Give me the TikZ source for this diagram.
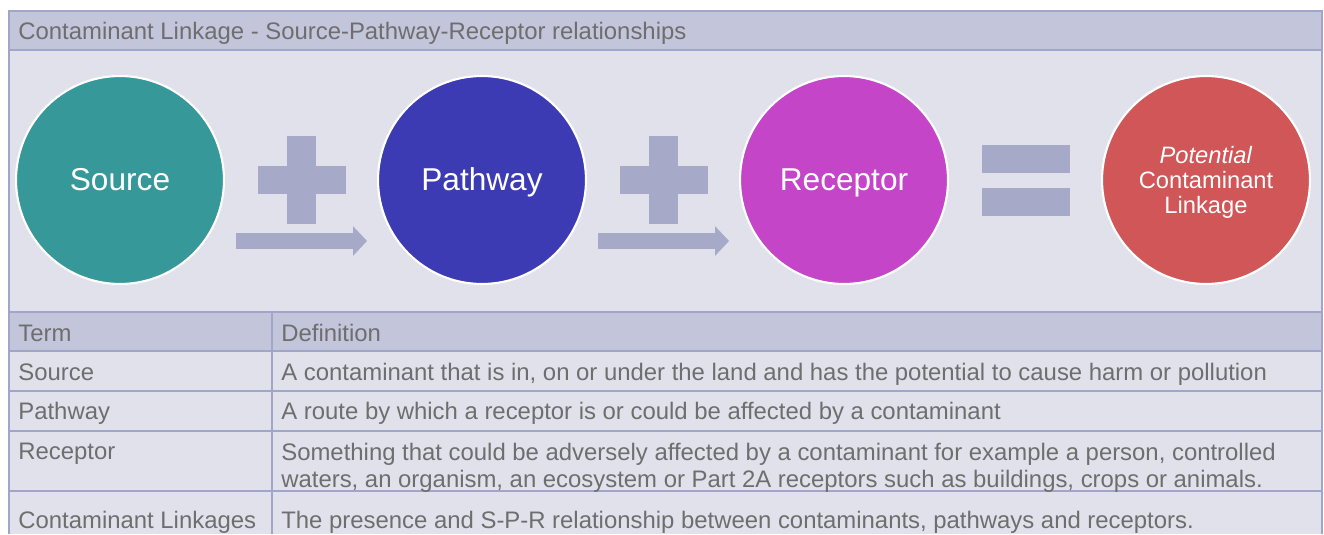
\documentclass[tikz,border=0pt]{standalone}
\usepackage{fontspec}
\setmainfont{Liberation Sans}
\usetikzlibrary{arrows.meta, positioning}
\definecolor{headfill}{HTML}{C3C5DB}
\definecolor{bodyfill}{HTML}{E1E1EC}
\definecolor{gridline}{HTML}{A2A5CA}
\definecolor{labelgrey}{HTML}{6E6E6E}
\definecolor{signfill}{HTML}{A6A9C7}
\definecolor{sourceteal}{HTML}{379899}
\definecolor{pathwayblue}{HTML}{3C3BB3}
\definecolor{receptorpink}{HTML}{C445C8}
\definecolor{linkagered}{HTML}{D05658}

\begin{document}
\begin{tikzpicture}[x=0.02cm, y=-0.02cm,
      stage/.style={circle, draw=white, line width=1.2pt, minimum size=4.16cm,
        inner sep=0pt, text=white, align=center, text height=15pt,
        text depth=3.4pt, font=\fontsize{18}{22}\selectfont},
      cell/.style={anchor=west, text=labelgrey, inner sep=0pt, align=left,
        text height=9.7pt, text depth=0pt,
        font=\fontsize{13.6}{15.3}\selectfont},
      sign/.style={fill=signfill},
      flow/.style={draw=signfill, line width=0.32cm,
        -{Triangle[length=0.28cm, width=0.58cm]}},
      grid line/.style={draw=gridline, line width=1.1pt}
    ]
      \useasboundingbox (0,0) rectangle (1324,534);
      \fill[headfill] (9,11) rectangle (1322,50);
      \fill[bodyfill] (9,50) rectangle (1322,312);
      \fill[headfill] (9,312) rectangle (1322,351);
      \fill[bodyfill] (9,351) rectangle (1322,534);
      \draw[grid line] (9,534) -- (9,11) -- (1322,11) -- (1322,534);
      \foreach \y in {50,312,351,391,431,491}
        \draw[grid line] (9,\y) -- (1322,\y);
      \draw[grid line] (272,312) -- (272,534);

      \node[cell] (title) at (18,31)
        {Contaminant Linkage - Source-Pathway-Receptor relationships};

      \node[stage, fill=sourceteal] (source) at (120,180) {Source};
      \node[stage, fill=pathwayblue] (pathway) at (482,180) {Pathway};
      \node[stage, fill=receptorpink] (receptor) at (844,180) {Receptor};
      \node[stage, fill=linkagered, text height=, text depth=0pt,
        font=\fontsize{13.5}{14.2}\selectfont]
        (linkage) at (1206,180)
        {\textit{Potential}\\Contaminant\\Linkage};

      \foreach \x in {301.5,663.5} {
        \fill[sign] (\x-14.5,136) rectangle (\x+14.5,224);
        \fill[sign] (\x-44,166) rectangle (\x+44,194);
      }
      \coordinate (flowAstart) at (236,241);
      \coordinate (flowAend) at (367,241);
      \coordinate (flowBstart) at (598,241);
      \coordinate (flowBend) at (729,241);
      \draw[flow] (flowAstart) -- (flowAend);
      \draw[flow] (flowBstart) -- (flowBend);
      \fill[sign] (982,145) rectangle (1070,173);
      \fill[sign] (982,188) rectangle (1070,216);

      \node[cell] (termhead) at (18,333) {Term};
      \node[cell] (defhead) at (281,333) {Definition};
      \node[cell] (termsource) at (18,372) {Source};
      \node[cell] (defsource) at (281,372)
        {A contaminant that is in, on or under the land and has the potential to cause harm or pollution};
      \node[cell] (termpathway) at (18,411) {Pathway};
      \node[cell] (defpathway) at (281,411)
        {A route by which a receptor is or could be affected by a contaminant};
      \node[cell] (termreceptor) at (18,451) {Receptor};
      \node[cell, text height=, text depth=] (defreceptor) at (281,467.5)
        {Something that could be adversely affected by a contaminant for example a person, controlled\\
         waters, an organism, an ecosystem or Part 2A receptors such as buildings, crops or animals.};
      \node[cell] (termlinkage) at (18,520) {Contaminant Linkages};
      \node[cell] (deflinkage) at (281,520)
        {The presence and S-P-R relationship between contaminants, pathways and receptors.};
    \end{tikzpicture}
\end{document}
